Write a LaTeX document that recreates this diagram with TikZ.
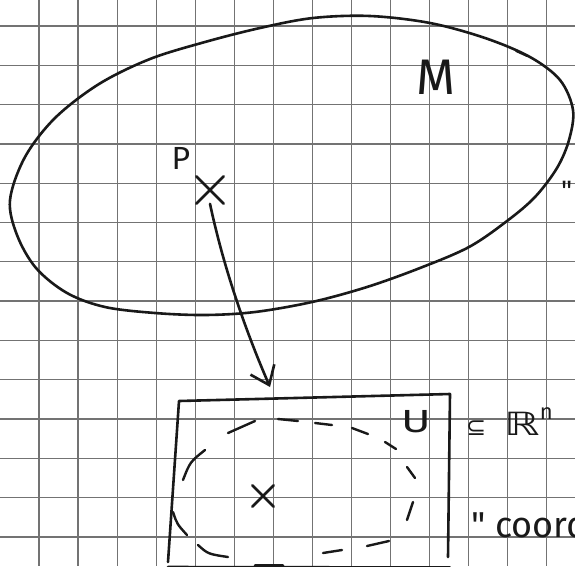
\documentclass[tikz,border=0pt]{standalone}
\usepackage{fontspec}
\newfontfamily\handfont{Fira Sans}
\newfontfamily\symfont{DejaVu Sans}
\usetikzlibrary{arrows.meta,shapes.misc}
\begin{document}
\begin{tikzpicture}[x=1pt,y=-1pt,
 gridline/.style={draw=black!55,line width=1.3pt},
 ink/.style={draw=black!90,line width=2.6pt,line cap=round,line join=round},
 dashmark/.style={ink,line width=2.4pt},
 crossmark/.style={cross out,draw=black!90,line width=2.6pt,line cap=round,minimum size=#1,inner sep=0pt},
 lbl/.style={inner sep=0pt,text=black!90},
]
\useasboundingbox (0,0) rectangle (575,566);
\clip (0,0) rectangle (575,566);
\fill[white] (0,0) rectangle (575,566);
\foreach \k in {1,...,14} \draw[gridline] ({39.05*\k},0) -- ({39.05*\k},566);
\foreach \k in {0,...,13} \draw[gridline] (0,{26+39.3*\k}) -- (575,{26+39.3*\k});

% manifold M
\draw[ink] plot[smooth cycle,tension=0.55] coordinates {(10,200) (25,157) (55,118) (99,84) (150,59) (205,42) (260,28) (313,18) (370,16) (430,23) (485,38) (530,57) (560,80) (573,110) (569,140) (557,168) (535,197) (507,221) (469,247) (420,268) (367,287) (312,302) (255,312) (205,315) (155,313) (105,307) (67,293) (36,268) (17,235)};
\draw[ink,line width=2pt] (516,51) -- (527,56);

\node[lbl,font=\handfont\fontsize{50}{50}\selectfont] (M) at (436,77) {M};
\node[lbl,font=\handfont\fontsize{32}{32}\selectfont] (Plbl) at (181,158) {P};
\node[crossmark=25pt] (p) at (210,190) {};
\node[lbl,font=\handfont\fontsize{28}{28}\selectfont,anchor=north west] (q1) at (561,181) {"};

% chart domain
\coordinate (tip) at (270,387);
\draw[ink,-{Straight Barb[length=17pt,width=26pt]}] (p.south) .. controls (223,265) and (244,327) .. (tip);

\draw[ink] (448,557) -- (450,394) -- (179,401) -- (168,562);
\draw[ink] (168,567) -- (450,567.5);
\draw[ink] (255,565.3) -- (283,565.5);

% dashed chart domain, drawn stroke by stroke
\draw[dashmark] (173,512) .. controls (177,524) .. (187,535);
\draw[dashmark] (183,480) .. controls (190,462) .. (205,450);
\draw[dashmark] (228,433) -- (255,421);
\draw[dashmark] (278,419) -- (298,421);
\draw[dashmark] (315,423) -- (332,425);
\draw[dashmark] (352,428) -- (368,434);
\draw[dashmark] (385,442) -- (396,449);
\draw[dashmark] (407,467) -- (415,478);
\draw[dashmark] (413,502) -- (407,520);
\draw[dashmark] (389,541) -- (367,546);
\draw[dashmark] (342,550) -- (323,553);
\draw[dashmark] (198,545) .. controls (208,554) .. (228,557);
\node[crossmark=19pt] (q) at (263,496) {};

\node[lbl,font=\handfont\fontsize{32}{32}\selectfont] (U) at (416,422) {\scalebox{1.4}[1]{U}};
\node[lbl,anchor=base west] (Rn) at (466,435) {\symfont\fontsize{24}{24}\selectfont ⊆\hspace{18pt}\fontsize{32}{32}\selectfont\scalebox{1.4}[1]{ℝ}\raisebox{16pt}{\handfont\fontsize{22}{22}\selectfont n}};
\node[lbl,font=\handfont\fontsize{36}{36}\selectfont,anchor=base west] (coord) at (471,537) {" coord};
\end{tikzpicture}
\end{document}
